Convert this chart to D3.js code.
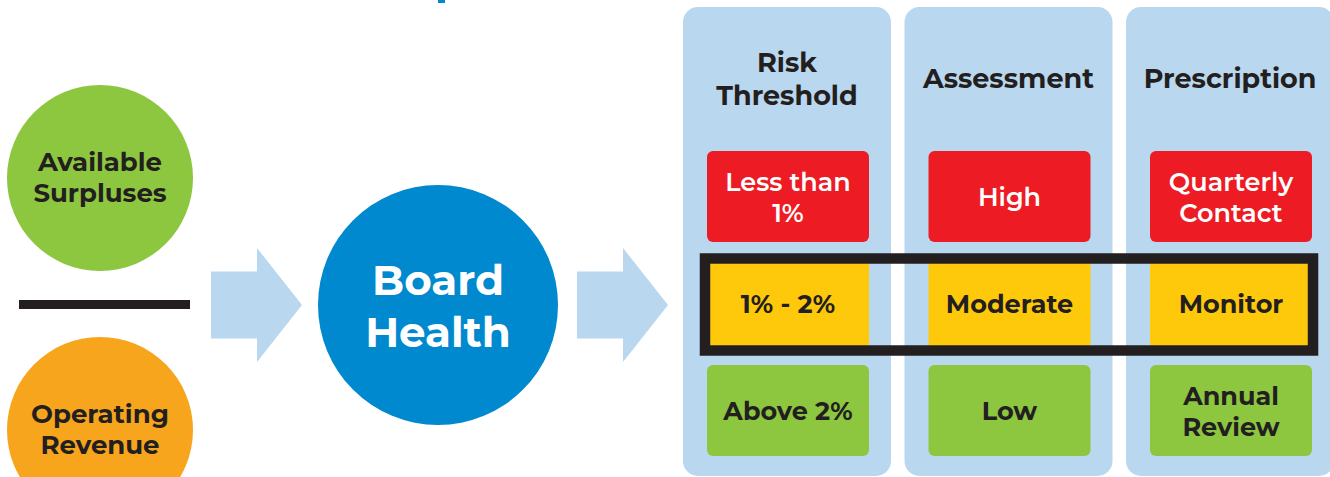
<!DOCTYPE html>
<html>
<head>
<meta charset="utf-8">
<script src="https://cdn.jsdelivr.net/npm/d3@7"></script>
<style>
  body { margin: 0; background: #fff; }
  svg { display: block; }
  text { font-family: "Montserrat", "Inter", "Open Sans", sans-serif; }
</style>
</head>
<body>
<script>
"use strict";
// ---- data ----
const columns = ["Risk Threshold", "Assessment", "Prescription"];
const headerLines = [["Risk", "Threshold"], ["Assessment"], ["Prescription"]];
const levels = ["high", "moderate", "low"];
const levelColors = ["#ED1C24", "#FFC90B", "#8DC63F"];
const levelTextColors = ["#ffffff", "#231F20", "#231F20"];
const thresholdLabels = [["Less than", "1%"], ["1% - 2%"], ["Above 2%"]];
const assessmentLabels = [["High"], ["Moderate"], ["Low"]];
const prescriptionLabels = [["Quarterly", "Contact"], ["Monitor"], ["Annual", "Review"]];
const inputLabels = [["Available", "Surpluses"], ["Operating", "Revenue"]];
const inputColors = ["#8DC63F", "#F7A51C"];
const centerLabel = ["Board", "Health"];
const highlighted = "moderate";

(function(){
    const measurements = { width: 1330, height: 477 };
    const dark = "#231F20";
    const paleBlue = "#B9D7EE";

    const svg = d3.select("body").append("svg")
        .attr("width", measurements.width)
        .attr("height", measurements.height);

    // cut-off title descender at the very top
    svg.append("rect").attr("x", 438).attr("y", 0).attr("width", 7).attr("height", 3).attr("fill", "#0089CF");

    // columns and rows
    const colX = d3.scaleBand().domain(columns).range([683, 1334]).paddingInner(0.061);
    const rowY = d3.scaleBand().domain(levels).range([151, 456]).paddingInner(0.1495);
    const boxW = 162;

    function multiLine(g, lines, cx, cy, size, lineH, color, weight) {
        const t = g.append("text")
            .attr("text-anchor", "middle")
            .attr("fill", color)
            .style("font-size", size + "px")
            .style("font-weight", weight);
        const y0 = cy - (lines.length - 1) * lineH / 2;
        lines.forEach((l, i) => {
            t.append("tspan").attr("x", cx).attr("y", y0 + i * lineH).attr("dy", "0.35em").text(l);
        });
    }

    // panels
    const panels = svg.selectAll(".panel").data(columns).enter().append("g").attr("class", "panel");
    panels.append("rect")
        .attr("x", d => colX(d))
        .attr("y", 7)
        .attr("width", colX.bandwidth())
        .attr("height", 469)
        .attr("rx", 15)
        .attr("fill", paleBlue);
    panels.each(function(d, i) {
        multiLine(d3.select(this), headerLines[i], colX(d) + colX.bandwidth() / 2, 79, 27, 33, dark, 700);
    });

    // cells
    const cellLabels = [thresholdLabels, assessmentLabels, prescriptionLabels];
    columns.forEach((c, ci) => {
        levels.forEach((lv, li) => {
            const cx = colX(c) + colX.bandwidth() / 2 + 1;
            svg.append("rect")
                .attr("x", cx - boxW / 2)
                .attr("y", rowY(lv))
                .attr("width", boxW)
                .attr("height", rowY.bandwidth())
                .attr("rx", 6)
                .attr("fill", levelColors[li]);
            multiLine(svg, cellLabels[ci][li], cx, rowY(lv) + rowY.bandwidth() / 2 + 1, 25.5, 31,
                levelTextColors[li], li === 0 ? 600 : 700);
        });
    });

    // highlight frame around current level
    const fx0 = colX(columns[0]) + colX.bandwidth() / 2 + 1 - boxW / 2 - 2;
    const fx1 = colX(columns[2]) + colX.bandwidth() / 2 + 1 + boxW / 2 + 1;
    svg.append("rect")
        .attr("x", fx0)
        .attr("y", rowY(highlighted) + 0.5)
        .attr("width", fx1 - fx0)
        .attr("height", rowY.bandwidth() + 1)
        .attr("fill", "none")
        .attr("stroke", dark)
        .attr("stroke-width", 10.5);

    // input circles and divider
    inputLabels.forEach((lines, i) => {
        const cy = i === 0 ? 178 : 430;
        svg.append("circle").attr("cx", 100).attr("cy", cy).attr("r", 93).attr("fill", inputColors[i]);
        multiLine(svg, lines, 100, cy - 1, 26, 31, dark, 700);
    });
    svg.append("rect").attr("x", 19).attr("y", 300).attr("width", 171).attr("height", 9).attr("fill", dark);

    // arrows
    const arrowPts = [[0, -33.5], [46, -33.5], [46, -57], [91, 0], [46, 57], [46, 33.5], [0, 33.5]];
    [211, 577].forEach(x0 => {
        svg.append("path")
            .attr("d", d3.line()(arrowPts.map(p => [x0 + p[0], 305 + p[1]])) + "Z")
            .attr("fill", paleBlue);
    });

    // centre circle
    svg.append("circle").attr("cx", 438).attr("cy", 305).attr("r", 120).attr("fill", "#0089CF");
    multiLine(svg, centerLabel, 438, 306, 42, 52, "#ffffff", 700);
})();
</script>
</body>
</html>
